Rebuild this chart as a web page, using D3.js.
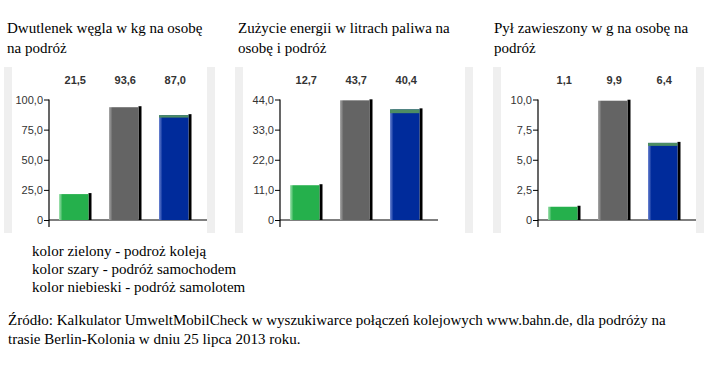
<!DOCTYPE html>
<html>
<head>
<meta charset="utf-8">
<script src="https://cdn.jsdelivr.net/npm/d3@7"></script>
<style>
  html, body { margin: 0; padding: 0; background: #fff; }
  svg { display: block; }
  .serif { font-family: "Liberation Serif", "DejaVu Serif", serif; }
  .sans { font-family: "Liberation Sans", Arial, sans-serif; }
</style>
</head>
<body>
<svg id="chart" width="706" height="367"></svg>
<script>
// ---------- DATA ----------
const categories = ["kolej", "samochód", "samolot"];
const co2Values = [21.5, 93.6, 87.0];
const energyValues = [12.7, 43.7, 40.4];
const dustValues = [1.1, 9.9, 6.4];
// thin green cap drawn on top of the plane bar (part of its total)
const planeCapValues = [2.0, 1.4, 0.25];
const co2Ticks = [0, 25, 50, 75, 100];
const energyTicks = [0, 11, 22, 33, 44];
const dustTicks = [0, 2.5, 5, 7.5, 10];
const titleLines = [
  ["Dwutlenek węgla w kg na osobę", "na podróż"],
  ["Zużycie energii w litrach paliwa na", "osobę i podróż"],
  ["Pył zawieszony w g na osobę na", "podróż"]
];
const legendLines = [
  "kolor zielony - podroż koleją",
  "kolor szary - podróż samochodem",
  "kolor niebieski - podróż samolotem"
];
const sourceLines = [
  "Źródło: Kalkulator UmweltMobilCheck w wyszukiwarce połączeń kolejowych www.bahn.de, dla podróży na",
  "trasie Berlin-Kolonia w dniu 25 lipca 2013 roku."
];

// ---------- LAYOUT ----------
const svg = d3.select("#chart");
const locale = d3.formatLocale({decimal: ",", thousands: " ", grouping: [3], currency: ["", ""]});
const f1 = locale.format(".1f");

const colors = ["#25b04c", "#646464", "#002b9b"];
const lightColors = ["#a6e3b4", "#a8a8a8", "#6f86d2"];
const capColor = "#4d8d63";

const defs = svg.append("defs");
colors.forEach((c, i) => {
  const g = defs.append("linearGradient").attr("id", "grad" + i)
    .attr("x1", "0").attr("x2", "1").attr("y1", "0").attr("y2", "0");
  g.append("stop").attr("offset", "0").attr("stop-color", lightColors[i]);
  g.append("stop").attr("offset", "0.12").attr("stop-color", c);
  g.append("stop").attr("offset", "1").attr("stop-color", c);
});

const panels = [
  {values: co2Values, ticks: co2Ticks, cap: planeCapValues[0], panelX: 4, panelW: 211, axisX: 49, titleX: 7, title: titleLines[0]},
  {values: energyValues, ticks: energyTicks, cap: planeCapValues[1], panelX: 235, panelW: 238, axisX: 280, titleX: 238, title: titleLines[1]},
  {values: dustValues, ticks: dustTicks, cap: planeCapValues[2], panelX: 493, panelW: 211, axisX: 538, titleX: 494, title: titleLines[2]}
];

const yTop = 99.5, yZero = 220, panelTop = 67, panelBottom = 233;

panels.forEach(p => {
  // panel background strips
  svg.append("rect").attr("x", p.panelX).attr("y", panelTop)
    .attr("width", p.panelW).attr("height", panelBottom - panelTop).attr("fill", "#efefef");
  svg.append("rect").attr("x", p.panelX + 8).attr("y", panelTop)
    .attr("width", p.panelW - 16).attr("height", panelBottom - panelTop).attr("fill", "#ffffff");

  // title
  const t = svg.append("text").attr("class", "serif").attr("font-size", 15).attr("fill", "#000");
  p.title.forEach((line, i) => {
    t.append("tspan").attr("x", p.titleX).attr("y", 33 + i * 19.5).text(line);
  });

  const g = svg.append("g").attr("transform", `translate(${p.axisX},0)`);
  const y = d3.scaleLinear().domain([0, d3.max(p.ticks)]).range([yZero, yTop]);
  const x = d3.scaleBand().domain(categories).range([0, 152.5]).paddingInner(0.35).paddingOuter(0.2);

  // y axis
  const yAxis = d3.axisLeft(y).tickValues(p.ticks).tickSize(5).tickPadding(1)
    .tickFormat(d => d === 0 ? "0" : f1(d));
  const ya = g.append("g").call(yAxis);
  ya.attr("font-family", null).attr("font-size", null);
  ya.select(".domain").remove();
  ya.selectAll(".tick line").attr("stroke", "#000");
  ya.selectAll(".tick text").attr("class", "sans").attr("font-size", 11).attr("fill", "#333");
  g.append("line").attr("x1", 0).attr("x2", 0).attr("y1", yTop).attr("y2", yZero + 7)
    .attr("stroke", "#000").attr("stroke-width", 1.2);
  g.append("line").attr("x1", 0).attr("x2", 158).attr("y1", yZero).attr("y2", yZero)
    .attr("stroke", "#000").attr("stroke-width", 1.2);

  // bars
  const bw = x.bandwidth();
  const data = categories.map((c, i) => ({c, v: p.values[i], i}));
  const bars = g.selectAll("g.bar").data(data).enter().append("g").attr("class", "bar");
  // shadow
  bars.append("rect")
    .attr("x", d => x(d.c) + bw - 3)
    .attr("y", d => y(d.v) - 1)
    .attr("width", 3)
    .attr("height", d => yZero - y(d.v) + 1)
    .attr("fill", "#000");
  bars.append("rect")
    .attr("x", d => x(d.c))
    .attr("y", d => y(d.v))
    .attr("width", bw - 3)
    .attr("height", d => yZero - y(d.v))
    .attr("fill", d => `url(#grad${d.i})`);
  // cap on plane bar
  const planeIdx = 2;
  g.append("rect")
    .attr("x", x(categories[planeIdx]))
    .attr("y", y(p.values[planeIdx]))
    .attr("width", bw - 3)
    .attr("height", y(p.values[planeIdx] - p.cap) - y(p.values[planeIdx]))
    .attr("fill", capColor);

  // value labels
  g.selectAll("text.val").data(data).enter().append("text").attr("class", "val sans")
    .attr("x", d => x(d.c) + bw / 2)
    .attr("y", 84)
    .attr("text-anchor", "middle")
    .attr("font-size", 11).attr("font-weight", "bold")
    .attr("fill", "#333")
    .text(d => f1(d.v));
});

// legend
legendLines.forEach((l, i) => {
  svg.append("text").attr("class", "serif").attr("x", 32).attr("y", 255.5 + i * 18)
    .attr("font-size", 15).attr("fill", "#000").text(l);
});
// source
sourceLines.forEach((l, i) => {
  svg.append("text").attr("class", "serif").attr("x", 8).attr("y", 325 + i * 18.5)
    .attr("font-size", 15).attr("fill", "#000").text(l);
});
</script>
</body>
</html>
